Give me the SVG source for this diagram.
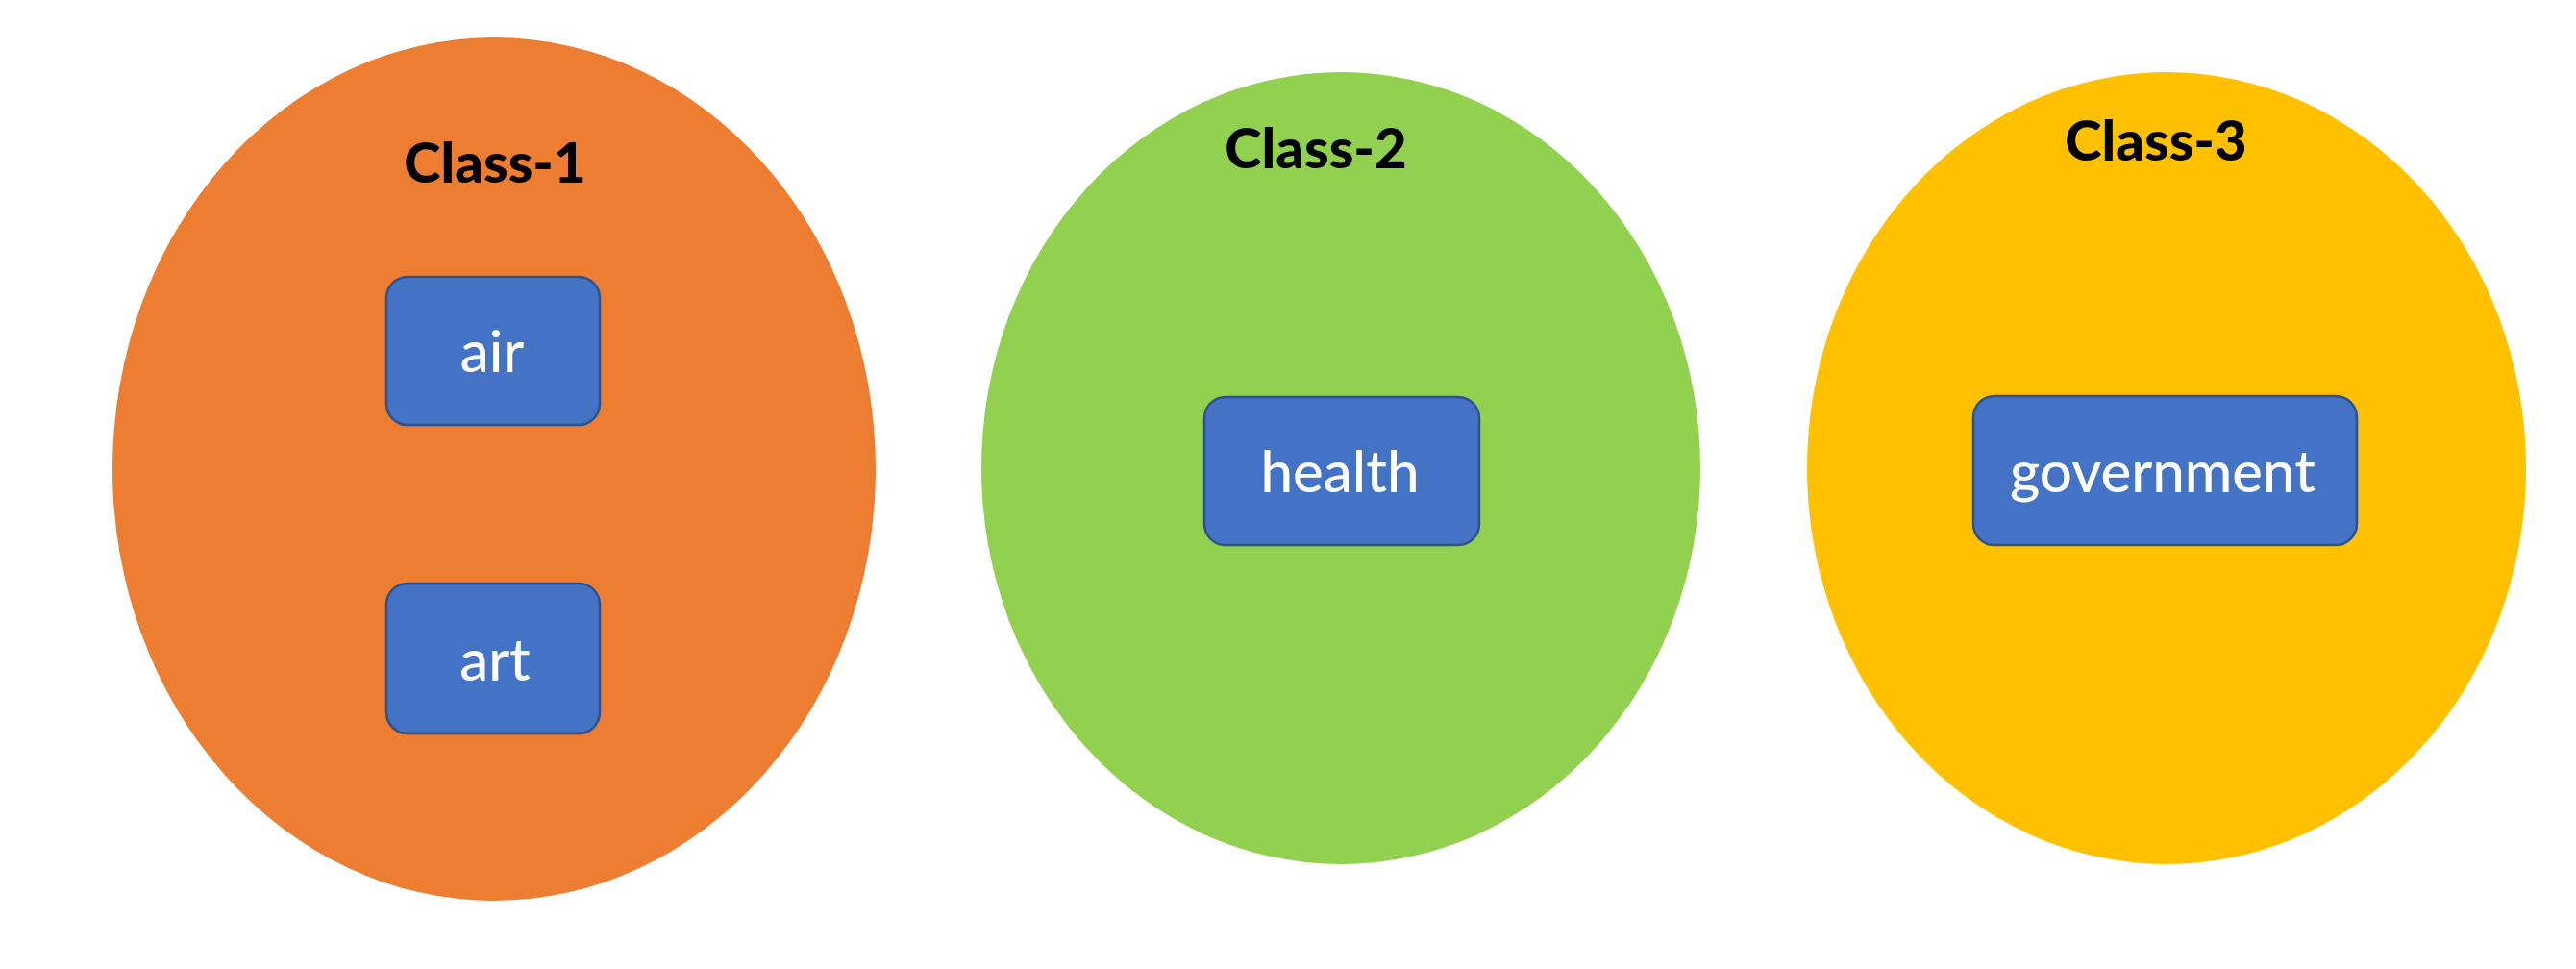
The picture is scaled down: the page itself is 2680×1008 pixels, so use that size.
<svg xmlns="http://www.w3.org/2000/svg" width="2680" height="1008" viewBox="0 0 2680 1008">
  <style>
    .cls { font-family: Lato, "Open Sans", "Liberation Sans", sans-serif; font-weight: 900; font-size: 58px; fill: #000000; text-anchor: middle; }
    .box { fill: #4472C4; stroke: #2F528F; stroke-width: 2.5; }
    .lbl { font-family: Lato, "Open Sans", "Liberation Sans", sans-serif; font-weight: 500; font-size: 60px; fill: #FFFFFF; text-anchor: middle; }
  </style>
  <rect x="0" y="0" width="2680" height="1008" fill="#FFFFFF"/>
  <g id="class-1">
    <ellipse cx="514" cy="488" rx="397" ry="449" fill="#ED7D31"/>
    <text class="cls" x="515" y="190">Class-1</text>
  </g>
  <g id="class-2">
    <ellipse cx="1395" cy="487" rx="374" ry="412" fill="#92D050"/>
    <text class="cls" x="1369" y="175">Class-2</text>
  </g>
  <g id="class-3">
    <ellipse cx="2254" cy="487" rx="374" ry="412" fill="#FFC000"/>
    <text class="cls" x="2243" y="167">Class-3</text>
  </g>
  <g id="air">
    <rect class="box" x="402" y="288" width="222" height="154" rx="22" ry="22"/>
    <text class="lbl" x="512" y="387">air</text>
  </g>
  <g id="art">
    <rect class="box" x="402" y="607" width="222" height="156" rx="22" ry="22"/>
    <text class="lbl" x="515" y="708">art</text>
  </g>
  <g id="health">
    <rect class="box" x="1253" y="413" width="286" height="154" rx="22" ry="22"/>
    <text class="lbl" x="1394" y="512">health</text>
  </g>
  <g id="government">
    <rect class="box" x="2053" y="412" width="399" height="155" rx="22" ry="22"/>
    <text class="lbl" x="2250" y="512">government</text>
  </g>
  <g id="connectors"></g>
</svg>
